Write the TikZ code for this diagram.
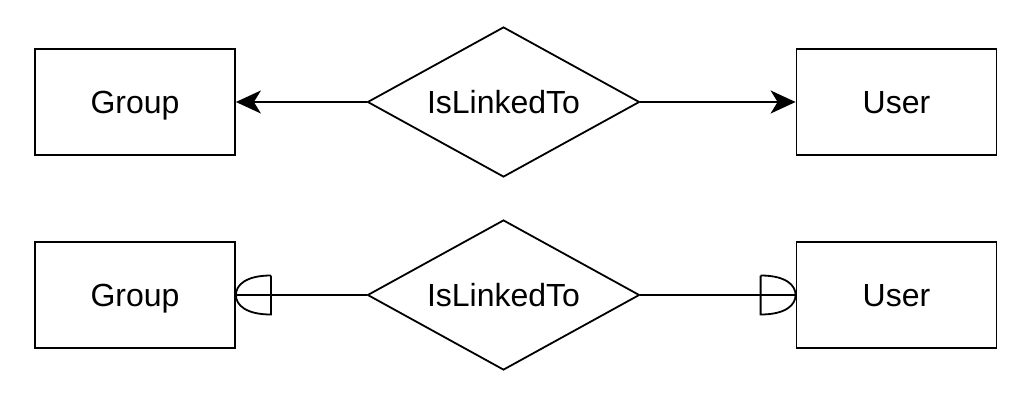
\documentclass[tikz,border=0pt]{standalone}
\usepackage{fontspec}
\setmainfont{Liberation Sans}
\usetikzlibrary{shapes.geometric,arrows.meta}
\begin{document}
\begin{tikzpicture}[x=1pt,y=1pt,
  lbl/.style={font=\fontsize{32}{38}\selectfont,text height=23pt,text depth=0pt},
  entity/.style={draw,line width=1.8pt,minimum width=200pt,minimum height=106pt,inner sep=0pt,lbl},
  rel/.style={draw,diamond,aspect=1.8,line width=1.8pt,minimum width=272pt,minimum height=150pt,inner sep=0pt,lbl},
  conn/.style={line width=1.8pt},
  arr/.style={conn,-{Stealth[length=25pt,width=23pt,inset=7pt]}},
  halfone/.style={line width=1.8pt}]
\useasboundingbox (0,0) rectangle (1030,400);
% top row
\node[entity] (g1) at (135,298) {Group};
\node[entity] (u1) at (896.5,298) {User};
\node[rel] (r1) at (503.5,298) {IsLinkedTo};
\draw[arr] (r1.west) -- (g1.east);
\draw[arr] (r1.east) -- (u1.west);
% bottom row
\node[entity] (g2) at (135,105) {Group};
\node[entity] (u2) at (896.5,105) {User};
\node[rel] (r2) at (503.5,105) {IsLinkedTo};
\draw[conn] (r2.west) -- (g2.east);
\draw[conn] (r2.east) -- (u2.west);
% half-circle ends
\draw[halfone] ([shift={(35,19.5)}]g2.east) -- ([shift={(35,-19.5)}]g2.east)
  .. controls ([shift={(10,-19.5)}]g2.east) and ([shift={(0,-10)}]g2.east) .. (g2.east)
  .. controls ([shift={(0,10)}]g2.east) and ([shift={(10,19.5)}]g2.east) .. ([shift={(35,19.5)}]g2.east);
\draw[halfone] ([shift={(-35,19.5)}]u2.west) -- ([shift={(-35,-19.5)}]u2.west)
  .. controls ([shift={(-10,-19.5)}]u2.west) and ([shift={(0,-10)}]u2.west) .. (u2.west)
  .. controls ([shift={(0,10)}]u2.west) and ([shift={(-10,19.5)}]u2.west) .. ([shift={(-35,19.5)}]u2.west);
\end{tikzpicture}
\end{document}
